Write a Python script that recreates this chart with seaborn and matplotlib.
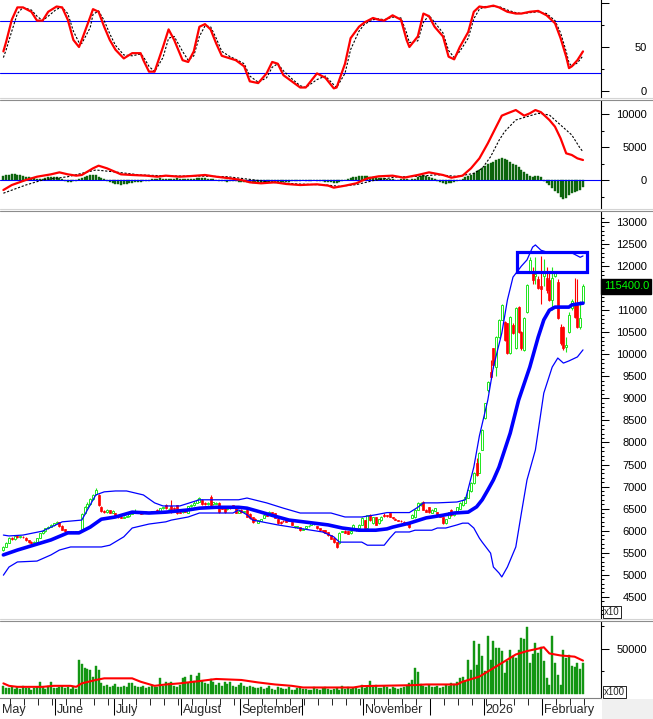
import numpy as np
import pandas as pd
import seaborn as sns
import matplotlib.pyplot as plt
import matplotlib.transforms as mtransforms
from matplotlib.lines import Line2D
from matplotlib.patches import Rectangle

# ---------------------- data (price in x10 units) ----------------------

opens = [5560, 5640, 5730, 5830, 5810, 5880, 5850, 5860, 5840, 5780,
         5750, 5730, 5740, 5840, 5950, 5990, 6050, 6090, 6120, 6170,
         6190, 6110, 6030, 5990, 5970, 5980, 5970, 5990, 6000, 6400,
         6540, 6600, 6720, 6820, 6800, 6540, 6440, 6420, 6460, 6410,
         6400, 6330, 6310, 6290, 6310, 6330, 6380, 6410, 6430, 6420,
         6390, 6420, 6400, 6410, 6430, 6470, 6420, 6510, 6580, 6490,
         6550, 6520, 6580, 6430, 6420, 6450, 6400, 6550, 6580, 6630,
         6660, 6700, 6630, 6600, 6760, 6600, 6610, 6630, 6520, 6510,
         6480, 6560, 6580, 6510, 6400, 6470, 6430, 6470, 6380, 6310,
         6270, 6180, 6220, 6290, 6400, 6360, 6420, 6400, 6270, 6200,
         6230, 6260, 6240, 6200, 6080, 6080, 6080, 6020, 6060, 6100,
         6130, 6140, 6100, 6060, 6010, 6010, 5970, 5900, 5830, 5740,
         5720, 5970, 6000, 5990, 5940, 6060, 6060, 6060, 6130, 6240,
         6060, 6350, 6170, 6310, 6170, 6240, 6360, 6350, 6400, 6300,
         6270, 6240, 6230, 6200, 6180, 6170, 6290, 6300, 6470, 6580,
         6650, 6470, 6530, 6400, 6450, 6420, 6350, 6310, 6170, 6290,
         6470, 6350, 6420, 6500, 6580, 6630, 6740, 6900, 7080, 7530,
         7310, 7830, 8550, 9190, 9600, 10140, 9710, 10390, 10780, 10730,
         10710, 10030, 10660, 10140, 11070, 10500, 10100, 10960, 11870, 11870,
         11780, 11700, 11550, 11780, 11730, 11690, 11230, 11780, 11640, 10620,
         10620, 10170, 10500, 11060, 11120, 11120, 10620, 11190]

closes = [5630, 5720, 5830, 5800, 5880, 5860, 5870, 5850, 5790, 5740,
          5720, 5740, 5830, 5940, 5990, 6060, 6090, 6130, 6170, 6200,
          6110, 6020, 5990, 5970, 5980, 5970, 5990, 5960, 6380, 6530,
          6600, 6720, 6800, 6920, 6580, 6440, 6420, 6460, 6410, 6440,
          6330, 6300, 6290, 6320, 6330, 6380, 6410, 6430, 6410, 6380,
          6420, 6400, 6420, 6440, 6420, 6400, 6510, 6530, 6510, 6500,
          6420, 6500, 6400, 6410, 6440, 6430, 6550, 6580, 6620, 6700,
          6740, 6600, 6600, 6620, 6580, 6640, 6630, 6420, 6500, 6420,
          6510, 6510, 6540, 6400, 6450, 6420, 6440, 6310, 6290, 6200,
          6250, 6240, 6260, 6360, 6340, 6420, 6340, 6290, 6170, 6170,
          6210, 6200, 6230, 6130, 6100, 6100, 6010, 6040, 6100, 6110,
          6170, 6160, 6050, 6010, 5990, 5950, 5900, 5820, 5740, 5640,
          5950, 5990, 5950, 5930, 5990, 6130, 6010, 6130, 6290, 6060,
          6350, 6240, 6310, 6130, 6260, 6310, 6340, 6330, 6310, 6280,
          6250, 6220, 6210, 6170, 6140, 6080, 6360, 6470, 6630, 6630,
          6470, 6430, 6420, 6470, 6510, 6350, 6310, 6170, 6260, 6420,
          6350, 6400, 6530, 6630, 6700, 6760, 6920, 7080, 7300, 7260,
          7760, 8280, 8890, 9370, 9480, 9760, 10390, 10780, 11120, 10320,
          10030, 10850, 10480, 11050, 10500, 10140, 10820, 11570, 12140, 11690,
          11820, 11500, 11470, 11870, 11460, 11230, 11730, 11870, 10820, 10260,
          10150, 10200, 10890, 11200, 10850, 10620, 10820, 11540]

highs = [5660, 5740, 5850, 5860, 5900, 5910, 5890, 5880, 5850, 5790,
         5760, 5760, 5840, 5950, 6010, 6070, 6110, 6150, 6180, 6220,
         6200, 6120, 6040, 6000, 5990, 5990, 6000, 6000, 6390, 6560,
         6640, 6740, 6830, 6960, 6830, 6560, 6460, 6480, 6470, 6460,
         6410, 6350, 6330, 6330, 6340, 6400, 6430, 6480, 6440, 6430,
         6430, 6440, 6430, 6450, 6450, 6480, 6520, 6540, 6600, 6510,
         6700, 6530, 6590, 6440, 6450, 6460, 6560, 6600, 6680, 6720,
         6760, 6720, 6650, 6640, 6800, 6660, 6640, 6640, 6530, 6520,
         6520, 6570, 6590, 6520, 6460, 6480, 6450, 6480, 6390, 6320,
         6280, 6250, 6270, 6370, 6410, 6440, 6430, 6410, 6280, 6210,
         6240, 6270, 6250, 6210, 6110, 6110, 6090, 6050, 6110, 6120,
         6180, 6180, 6110, 6070, 6020, 6020, 5980, 5910, 5840, 5750,
         5960, 6000, 6010, 6000, 6000, 6140, 6070, 6140, 6300, 6250,
         6360, 6370, 6320, 6320, 6270, 6330, 6400, 6360, 6410, 6310,
         6280, 6250, 6240, 6210, 6190, 6180, 6370, 6480, 6640, 6650,
         6680, 6490, 6540, 6480, 6520, 6430, 6360, 6320, 6270, 6430,
         6480, 6410, 6540, 6640, 6710, 6770, 6940, 7100, 7320, 7650,
         7780, 8300, 8900, 9400, 9860, 10150, 10420, 10800, 11150, 10760,
         10720, 10870, 10700, 11080, 11090, 10520, 10840, 11600, 12200, 11990,
         12200, 11780, 12220, 12150, 11990, 11900, 11990, 11900, 11700, 10680,
         10650, 10400, 10950, 11250, 11730, 11700, 11200, 11600]

lows = [5540, 5620, 5710, 5780, 5790, 5830, 5830, 5830, 5770, 5720,
        5700, 5710, 5730, 5830, 5930, 5980, 6040, 6080, 6110, 6160,
        6090, 6010, 5970, 5950, 5960, 5950, 5960, 5940, 5990, 6380,
        6510, 6590, 6700, 6800, 6560, 6420, 6400, 6400, 6390, 6400,
        6310, 6280, 6280, 6280, 6300, 6320, 6370, 6400, 6390, 6370,
        6380, 6390, 6390, 6400, 6410, 6390, 6410, 6500, 6500, 6480,
        6410, 6490, 6380, 6400, 6410, 6420, 6390, 6540, 6570, 6620,
        6650, 6590, 6580, 6590, 6560, 6590, 6600, 6400, 6490, 6410,
        6470, 6500, 6530, 6390, 6390, 6410, 6420, 6300, 6270, 6180,
        6230, 6170, 6210, 6280, 6330, 6350, 6330, 6280, 6160, 6160,
        6200, 6190, 6220, 6120, 6070, 6070, 6000, 6010, 6050, 6090,
        6120, 6130, 6040, 6000, 5970, 5940, 5890, 5800, 5730, 5610,
        5700, 5960, 5940, 5920, 5930, 6050, 6000, 6050, 6120, 6050,
        6050, 6230, 6160, 6120, 6160, 6230, 6320, 6320, 6300, 6270,
        6240, 6210, 6200, 6160, 6130, 6070, 6280, 6290, 6460, 6570,
        6460, 6420, 6410, 6390, 6440, 6340, 6300, 6160, 6160, 6280,
        6340, 6340, 6410, 6490, 6570, 6620, 6730, 6880, 7060, 7240,
        7300, 7820, 8540, 9150, 9450, 9700, 9500, 10380, 10770, 10300,
        10000, 10010, 10450, 10120, 10480, 10100, 10080, 10940, 11850, 11600,
        11600, 11480, 11150, 11550, 11380, 11200, 11000, 11760, 10800, 10200,
        10100, 10050, 10480, 11000, 10830, 10600, 10580, 11150]

volumes = [9000, 7000, 6500, 8000, 5500, 7500, 6000, 9000, 6500, 7000,
           5000, 6500, 8000, 14000, 7500, 6000, 9000, 13500, 7000,
           6500, 8000, 9500, 7000, 8500, 6000, 7500, 6000,
           38000, 33000, 28500, 28000, 26500, 19500, 31500, 26500, 12000,
           9000, 10000, 8500, 9500, 11000, 8000, 7500, 9000, 8500, 12000,
           12500, 9000, 7500, 8000, 9500, 7000, 8500, 10000, 7500, 8000,
           18000, 9500, 13000, 12000, 14000, 9500, 8500,
           10500, 17500, 19000, 12000, 21000, 14500, 20000, 23000, 15000, 12000,
           11000, 17000, 13500, 10500, 12000, 9500, 14000, 11000, 13000, 9000,
           8000, 10500, 12500, 9000, 7500, 9500, 8000, 7000,
           6500, 8000, 5500, 7000, 9000, 6000, 5000, 7500, 6500, 5500,
           6000, 8000, 5000, 4500, 6500, 7000, 5500, 6000, 4500, 5000,
           7500, 6000, 5000, 6500, 8000, 5500, 4500, 6000, 7000, 5000,
           9500, 6000, 7500, 5500, 6500, 8000, 6000, 10000,
           7000, 9000, 14500, 8000, 10000, 7000, 6500, 9000, 7500, 6000,
           8500, 7000, 5500, 6500, 8000, 9500, 12000, 16000, 29000, 24000,
           11000, 9000, 8500, 10000, 7500, 8000, 9500, 7000, 8500, 10500,
           9000, 12000, 11000, 13000, 17500, 19500, 15000,
           38000, 26800, 58500, 32300, 54800, 41700, 25000, 64000, 38000, 58500,
           51000, 51000, 47000, 23000, 36000, 49000, 41700, 40000, 49000, 62000,
           60500, 74000, 34000, 43600, 56000, 45500, 52000, 36000, 17500, 10000,
           64000, 34000, 21000, 10000, 49000, 40000, 43000, 31000, 30000, 34000,
           28000, 34000]

macd_hist = [600, 700, 800, 900, 850, 800, 700, 600, 500, 400,
             300, 250, 200, 150, 100, 300, 400, 500, 500, 450,
             350, 150, -100, -300, -350, -200, -100, 100, 300, 500,
             650, 750, 760, 700, 500, 300, 150, -150, -350, -500,
             -600, -650, -700, -650, -550, -450, -400, -350, -300, -250,
             -200, -150, -100, 100, 150, 200, 250, 200, 150, 100,
             150, 200, 250, 200, 150, 100, 150, 100, 200, 250,
             300, 300, 250, 200, 150, 100, 50, -100, -150, -200,
             -250, -200, -150, -200, -250, -300, -300, -350, -300, -400,
             -450, -500, -450, -400, -350, -300, -350, -400, -350, -300,
             -250, -300, -250, -200, -150, -100, -100, -50, -100, -150,
             -100, -50, -100, -150, -200, -250, -300, -350, -400, -450,
             -300, -150, 50, 150, 300, 400, 500, 550, 600, 600,
             550, 500, 450, 400, 350, 300, 250, 200, 150, 100,
             50, 50, 100, 150, 100, 50, 100, 200, 400, 600,
             700, 650, 500, 350, 150, -100, -300, -450, -550, -500,
             -400, -300, -150, 50, 200, 400, 600, 800, 1100, 1300,
             1500, 1800, 2100, 2400, 2600, 2800, 3000, 3150, 3300, 3200,
             3000, 2800, 2500, 2200, 1900, 1500, 1200, 900, 600, 400,
             550, 600, 450, -100, -400, -800, -1200, -1600, -2000, -2500,
             -2900, -2700, -2300, -2000, -1800, -1700, -1500, -1000]

# Bollinger bands (day index, value)
upper_days = [0, 2, 7, 14, 21, 28, 30, 33, 36, 40, 44, 50, 54, 57, 63, 70, 84, 87, 94, 100,
              106, 117, 122, 128, 133, 137, 145, 148, 150, 155, 162, 165, 168, 170, 173, 175,
              178, 180, 182, 185, 187, 189, 190, 192, 195, 200, 203, 206, 207]
bb_upper = [5900, 5880, 5900, 5990, 6200, 6240, 6470, 6810, 6880, 6900, 6900, 6810, 6630, 6560,
            6560, 6700, 6700, 6740, 6630, 6510, 6400, 6400, 6310, 6310, 6360, 6410, 6410, 6530,
            6630, 6630, 6650, 6700, 7440, 8150, 8960, 9710, 10480, 11230, 11750, 12000, 12140,
            12430, 12480, 12360, 12300, 12320, 12300, 12200, 12230]

mid_days = [0, 5, 11, 17, 23, 27, 31, 35, 40, 46, 52, 58, 66, 70, 76, 84, 87, 92, 98, 102,
            111, 116, 121, 127, 133, 137, 139, 145, 151, 157, 161, 166, 169, 171, 173, 175,
            177, 181, 184, 188, 191, 193, 195, 197, 202, 203, 207]
bb_mid = [5450, 5560, 5675, 5790, 5950, 5950, 6080, 6260, 6310, 6420, 6400, 6420, 6470, 6510,
          6530, 6530, 6510, 6420, 6310, 6240, 6170, 6130, 6060, 6010, 6010, 6040, 6080, 6170,
          6290, 6350, 6400, 6420, 6540, 6700, 6920, 7150, 7440, 8210, 8960, 9710, 10390, 10780,
          11000, 11070, 11070, 11120, 11160]

lower_days = [0, 2, 5, 12, 17, 20, 24, 35, 38, 43, 46, 52, 58, 60, 66, 70, 82, 84, 87, 89,
              98, 105, 110, 114, 118, 120, 128, 130, 136, 138, 140, 145, 147, 153, 155, 158,
              162, 164, 166, 168, 170, 171, 174, 175, 177, 178, 180, 183, 185, 187, 190, 193,
              196, 198, 200, 202, 205, 207]
bb_lower = [4990, 5175, 5290, 5310, 5450, 5560, 5630, 5630, 5670, 5860, 6060, 6150, 6200, 6240,
            6310, 6400, 6400, 6470, 6360, 6240, 6130, 6060, 6010, 5970, 5860, 5740, 5740, 5670,
            5670, 5830, 5970, 5970, 6010, 6010, 6060, 6060, 6130, 6170, 6170, 6060, 5830, 5740,
            5490, 5175, 5040, 4950, 5175, 5630, 6400, 7150, 7830, 9120, 9710, 9915, 9800, 9850,
            9940, 10100]

# stochastic %K / %D
stoch_days = [0, 1, 3, 5, 7, 10, 12, 14, 16, 19, 21, 23, 25, 27, 28, 31, 32, 34, 36, 38,
              40, 43, 46, 49, 50, 52, 54, 57, 59, 61, 64, 66, 68, 70, 72, 74, 76, 78, 81, 83,
              86, 88, 91, 94, 96, 98, 100, 103, 106, 108, 112, 115, 118, 119, 122, 124, 127, 129,
              132, 134, 136, 139, 142, 144, 145, 148, 150, 152, 154, 157, 159, 161, 163, 166,
              168, 170, 172, 175, 177, 180, 183, 185, 188, 191, 194, 197, 199, 201, 202, 203,
              205, 207]
stoch_k = [45, 56, 81, 95, 95, 90, 80, 80, 90, 96, 95, 81, 58, 50, 58, 84, 93, 90, 73, 58,
           47, 37, 43, 43, 35, 22, 22, 50, 70, 58, 35, 33, 45, 73, 76, 70, 54, 40, 37, 35,
           28, 11, 9, 20, 33, 31, 18, 11, 4, 4, 20, 15, 3, 4, 31, 60, 73, 78, 83, 81,
           80, 86, 81, 58, 50, 62, 88, 85, 73, 62, 39, 36, 50, 67, 90, 96, 95, 97, 95, 90,
           88, 88, 90, 91, 86, 77, 60, 39, 26, 28, 35, 45]
stoch_d = [38, 47, 68, 88, 95, 92, 85, 80, 85, 93, 95, 88, 68, 55, 54, 72, 87, 91, 80, 65,
           52, 41, 40, 42, 39, 28, 22, 38, 60, 62, 45, 35, 40, 62, 74, 73, 60, 45, 39, 36,
           31, 17, 10, 15, 27, 31, 23, 14, 6, 4, 13, 17, 7, 4, 20, 47, 68, 76, 81, 82,
           81, 84, 83, 66, 55, 57, 78, 86, 78, 66, 46, 38, 45, 60, 82, 93, 96, 96, 96, 92,
           89, 88, 89, 90, 88, 80, 66, 45, 32, 28, 32, 40]
stoch_levels = [20, 80]

# MACD and its signal line
macd_days = [0, 3, 8, 12, 17, 20, 23, 26, 28, 32, 34, 37, 42, 46, 51, 55, 58, 63, 67, 72,
             76, 81, 85, 88, 92, 97, 101, 106, 112, 116, 118, 122, 126, 130, 134, 139, 143,
             148, 152, 157, 160, 164, 167, 170, 173, 176, 178, 180, 183, 186, 188, 190, 192,
             195, 197, 199, 201, 203, 205, 207]
macd = [-1515, -760, 0, 500, 860, 1160, 860, 660, 760, 1770, 2170, 1770, 860, 760, 660, 500,
        660, 500, 600, 760, 500, 250, 0, -350, -500, -350, -600, -760, -650, -850, -1160, -860,
        -500, 250, 560, 660, 350, 760, 1160, 760, 350, 660, 1770, 3280, 5550, 8080, 9750,
        10100, 10600, 9750, 10100, 10600, 10270, 9090, 8080, 6310, 4040, 3790, 3280, 3030]
signal_days = [0, 8, 14, 23, 33, 39, 49, 60, 70, 80, 88, 95, 105, 115, 120, 126, 132, 140,
               148, 155, 162, 168, 171, 174, 177, 179, 183, 187, 191, 195, 199, 203, 206, 207]
macd_signal = [-2000, -760, 0, 500, 1520, 1260, 760, 600, 600, 500, 100, -300, -600, -750,
               -950, -700, -100, 450, 550, 800, 550, 1000, 1770, 3530, 6000, 7320, 9090, 9600,
               10100, 9850, 8330, 6820, 4800, 4290]

# volume moving average
vol_ma_days = [0, 2, 5, 14, 18, 24, 26, 28, 33, 36, 46, 49, 54, 58, 63, 70, 76, 85, 91, 97,
               103, 107, 125, 128, 146, 151, 162, 164, 170, 174, 179, 183, 187, 191, 193, 195,
               199, 204, 207]
vol_ma = [12000, 9300, 8200, 8200, 9300, 9300, 8200, 12000, 15700, 17500, 17500, 13800, 9300,
          10800, 12000, 14500, 16800, 15700, 13000, 10800, 9300, 7500, 7500, 9000, 10000, 10800,
          10800, 13800, 19400, 26800, 36100, 43600, 47300, 50000, 51500, 44700, 42500, 41200,
          36900]

month_names = ["June", "July", "August", "September", "", "November", "", "2026", "February"]
month_first_day = [19, 40, 64, 85, 107, 129, 153, 172, 193]
box_days = (183.5, 208.5)
box_prices = (11870, 12320)

assert len(opens) == len(closes) == len(highs) == len(lows) == len(volumes) == len(macd_hist) == 208

# ---------------------- figure layout (pixel based) ----------------------

sns.set_style("white")
plt.rcParams['font.family'] = ['Liberation Sans', 'DejaVu Sans']

W, H = 653.0, 719.0
AXIS_X = 601
fig = plt.figure(figsize=(W / 100, H / 100), dpi=100)
fig.patch.set_facecolor('white')


def panel(top, bottom):
    return fig.add_axes([0, 1 - bottom / H, AXIS_X / W, (bottom - top) / H])


ax_st = panel(0, 97)
ax_md = panel(101, 208)
ax_pr = panel(212, 618)
ax_vo = panel(622, 698)

XMIN, XMAX = -1.21, 213.43
days = np.arange(len(closes))
o = np.array(opens); c = np.array(closes); hi = np.array(highs); lo = np.array(lows)

GREEN = '#1ee61e'
RED = '#ff0000'
BLUE = '#0000ff'

# ---------------------- stochastic ----------------------
for lv in stoch_levels:
    ax_st.axhline(lv, color=BLUE, lw=0.8, zorder=1)
sns.lineplot(x=stoch_days, y=stoch_d, ax=ax_st, color='black', linewidth=0.8,
             linestyle=(0, (2, 1.5)), estimator=None, zorder=2)
sns.lineplot(x=stoch_days, y=stoch_k, ax=ax_st, color=RED, linewidth=1.6, estimator=None, zorder=3)
ax_st.set_ylim(-6.8, 103.4)
ax_st.set_yticks([0, 50, 100])
ax_st.set_yticklabels(['0', '50', ''], ha='right')
ax_st.set_yticks([25, 75], minor=True)

# ---------------------- MACD ----------------------
ax_md.bar(days, macd_hist, width=0.72, color='#0c640c', edgecolor='#0c640c',
          linewidth=0.3, zorder=1)
ax_md.axhline(0, color=BLUE, lw=0.8, zorder=2)
sns.lineplot(x=signal_days, y=macd_signal, ax=ax_md, color='black', linewidth=0.8,
             linestyle=(0, (2, 1.5)), estimator=None, zorder=3)
sns.lineplot(x=macd_days, y=macd, ax=ax_md, color=RED, linewidth=1.6, estimator=None, zorder=4)
ax_md.set_ylim(-4240, 11970)
ax_md.set_yticks([0, 5000, 10000])
ax_md.set_yticklabels(['0', '5000', '10000'], ha='right')
ax_md.set_yticks([-2500, 2500, 7500], minor=True)

# ---------------------- price: candles + bollinger ----------------------
up = c >= o
ax_pr.vlines(days[up], lo[up], hi[up], color=GREEN, lw=0.8, zorder=2)
ax_pr.vlines(days[~up], lo[~up], hi[~up], color=RED, lw=0.8, zorder=2)
ax_pr.bar(days[up], (c - o)[up], bottom=o[up], width=0.75, facecolor='white',
          edgecolor=GREEN, linewidth=0.7, zorder=2.5)
ax_pr.bar(days[~up], (o - c)[~up], bottom=c[~up], width=0.75, facecolor=RED,
          edgecolor=RED, linewidth=0.5, zorder=2.5)

sns.lineplot(x=upper_days, y=bb_upper, ax=ax_pr, color=BLUE, linewidth=0.9, estimator=None, zorder=3)
sns.lineplot(x=lower_days, y=bb_lower, ax=ax_pr, color=BLUE, linewidth=0.9, estimator=None, zorder=3)
sns.lineplot(x=mid_days, y=bb_mid, ax=ax_pr, color=BLUE, linewidth=2.6, estimator=None, zorder=3)

ax_pr.add_patch(Rectangle((box_days[0], box_prices[0]), box_days[1] - box_days[0],
                          box_prices[1] - box_prices[0], fill=False, edgecolor=BLUE,
                          linewidth=2.3, zorder=4, clip_on=False))
ax_pr.set_ylim(4019, 13227)
price_ticks = list(range(4500, 13001, 500))
ax_pr.set_yticks(price_ticks)
ax_pr.set_yticklabels(['' if t == 11500 else str(t) for t in price_ticks], ha='right')
ax_pr.set_yticks([t for t in range(4100, 13200, 100) if t % 500], minor=True)

tag_tr = mtransforms.blended_transform_factory(ax_pr.transAxes, ax_pr.transData)
ax_pr.text(1.0045, closes[-1], f"{closes[-1] * 10:.1f}", transform=tag_tr, ha='left', va='center',
           color='#00ff00', fontsize=8, zorder=10, clip_on=False,
           bbox=dict(boxstyle='square,pad=0.2', facecolor='black', edgecolor='black'))

# ---------------------- volume ----------------------
ax_vo.bar(days, volumes, width=0.72, color='#139613', edgecolor='#139613',
          linewidth=0.3, zorder=1)
sns.lineplot(x=vol_ma_days, y=vol_ma, ax=ax_vo, color=RED, linewidth=1.5, estimator=None, zorder=3)
ax_vo.set_ylim(-4000, 79100)
ax_vo.set_yticks([50000])
ax_vo.set_yticklabels(['50000'], ha='right')
ax_vo.set_yticks([25000, 75000], minor=True)

# ---------------------- common axis styling ----------------------
for ax in (ax_st, ax_md, ax_pr, ax_vo):
    ax.set_xlim(XMIN, XMAX)
    ax.set_facecolor('white')
    ax.set_xlabel('')
    ax.set_ylabel('')
    for s in ('left', 'top', 'bottom'):
        ax.spines[s].set_visible(False)
    ax.spines['right'].set_visible(True)
    ax.spines['right'].set_color('black')
    ax.spines['right'].set_linewidth(0.8)
    ax.yaxis.tick_right()
    ax.tick_params(axis='y', which='major', direction='out', length=5.5, width=0.75,
                   labelsize=8, pad=27.6, colors='black', right=True, left=False)
    ax.tick_params(axis='y', which='minor', direction='out', length=2.5, width=0.75,
                   colors='black', right=True, left=False)
    if ax is not ax_vo:
        ax.set_xticks([])

ax_vo.spines['bottom'].set_visible(True)
ax_vo.spines['bottom'].set_color('#808080')
ax_vo.spines['bottom'].set_linewidth(0.8)
ax_vo.set_xticks([d - 0.5 for d in month_first_day])
ax_vo.set_xticks(np.arange(2.5, 208, 5), minor=True)
ax_vo.tick_params(axis='x', which='major', bottom=True, direction='out', length=12.5,
                  width=0.75, color='black', labelbottom=False)
ax_vo.tick_params(axis='x', which='minor', bottom=True, direction='out', length=5,
                  width=0.6, color='black')

lab_tr = mtransforms.blended_transform_factory(ax_vo.transData, fig.transFigure)
ax_vo.text(-0.55, 1 - 710 / H, "May", transform=lab_tr, fontsize=9, va='center', ha='left',
           clip_on=False)
for name, d in zip(month_names, month_first_day):
    if name:
        ax_vo.text(d - 0.5 + 0.6, 1 - 710 / H, name, transform=lab_tr, fontsize=9,
                   va='center', ha='left', clip_on=False)

# panel separators
for y, col in [(97.5, '#d4d4d4'), (99.5, '#8c8c8c'), (208.5, '#d4d4d4'), (210.5, '#8c8c8c'),
               (618.5, '#d4d4d4'), (620.5, '#8c8c8c')]:
    fig.add_artist(Line2D([0, 1], [1 - y / H] * 2, color=col, lw=0.8))

fig.add_artist(Rectangle(((AXIS_X + 0.5) / W, 0), (W - AXIS_X) / W, 20.5 / H,
                         transform=fig.transFigure, facecolor='#f0f0f0', edgecolor='none'))

box = dict(boxstyle='square,pad=0.15', facecolor='white', edgecolor='black', linewidth=0.6)
fig.text(604 / W, 1 - 612 / H, 'x10', fontsize=7, va='center', ha='left', bbox=box)
fig.text(604 / W, 1 - 692 / H, 'x100', fontsize=7, va='center', ha='left', bbox=box)

fig.savefig('out.png', dpi=100)
